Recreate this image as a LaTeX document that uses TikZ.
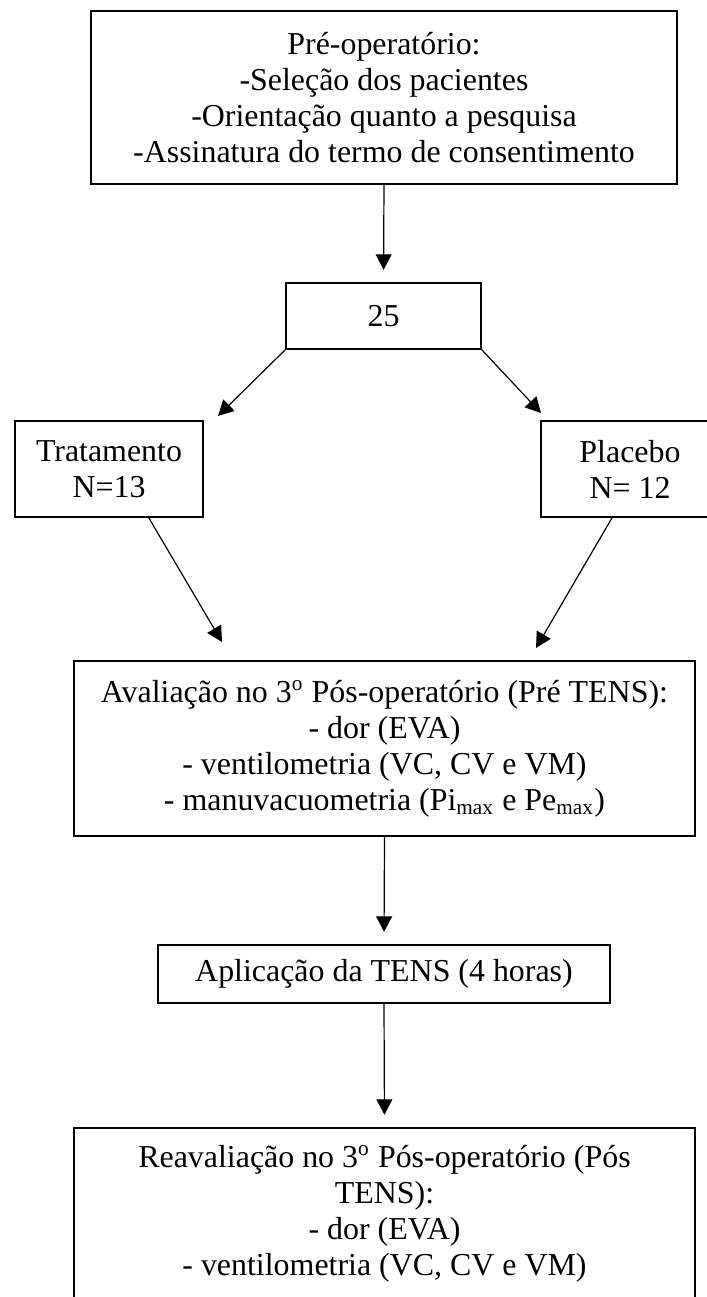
\documentclass[tikz,border=0pt]{standalone}
\usepackage{fontspec}
\setmainfont{Liberation Serif}
\usetikzlibrary{arrows.meta}

\begin{document}
\begin{tikzpicture}[
  x=0.376pt, y=-0.376pt,
  box/.style={
    draw, line width=0.75pt,
    inner xsep=0pt, inner ysep=0pt,
    font=\fontsize{12}{13.5}\selectfont, align=center
  },
  seta/.style={-{Triangle[length=5.8pt,width=6pt]}, line width=0.45pt},
  curta/.style={shorten >=4.6pt}
]
\path[use as bounding box] (0,0) rectangle (707,1297);
\clip (0,0) rectangle (707,1297);

% --- Pre-operatorio ---
\node[box, minimum width=220.2pt, minimum height=65pt] (pre) at (384,97.5)
  {Pré-operatório:\\-Seleção dos pacientes\\-Orientação quanto a pesquisa\\-Assinatura do termo de consentimento};

\node[box, minimum width=73.3pt, minimum height=24.8pt] (n25) at (383.5,316) {25};

% --- Grupos ---
\node[box, minimum width=70.7pt, minimum height=36.1pt] (trat) at (109,469) {Tratamento\\N=13};
\node[box, minimum width=66.9pt, minimum height=36.1pt] (plac) at (630,469) {Placebo\\N= 12};

% --- Avaliacao ---
\node[box, minimum width=233.5pt, minimum height=65.8pt] (aval) at (384.5,748.5)
  {Avaliação no 3\textsuperscript{o} Pós-operatório (Pré TENS):\\- dor (EVA)\\- ventilometria (VC, CV e VM)\\- manuvacuometria (Pi\textsubscript{max} e Pe\textsubscript{max})};

\node[box, minimum width=170pt, minimum height=21.8pt] (apl) at (384,974) {Aplicação da TENS (4 horas)};

\node[box, anchor=north, minimum width=233.5pt, inner ysep=6.5pt, text depth=120pt] (reav) at (384.5,1127)
  {Reavaliação no 3\textsuperscript{o} Pós-operatório (Pós\\TENS):\\- dor (EVA)\\- ventilometria (VC, CV e VM)};

% --- setas ---
\coordinate (tratin) at (218,416);
\coordinate (placin) at (541,413);
\coordinate (avalesq) at (222,642);
\coordinate (avaldir) at (536,648);

\draw[seta, curta] (pre.south) -- (n25.north);
\draw[seta] (n25.south west) -- (tratin);
\draw[seta] (n25.south east) -- (placin);
\draw[seta] ([xshift=15pt]trat.south) -- (avalesq);
\draw[seta] ([xshift=-6.8pt]plac.south) -- (avaldir);
\draw[seta, curta] (aval.south) -- (apl.north);
\draw[seta, curta] (apl.south) -- (reav.north);

\end{tikzpicture}
\end{document}
